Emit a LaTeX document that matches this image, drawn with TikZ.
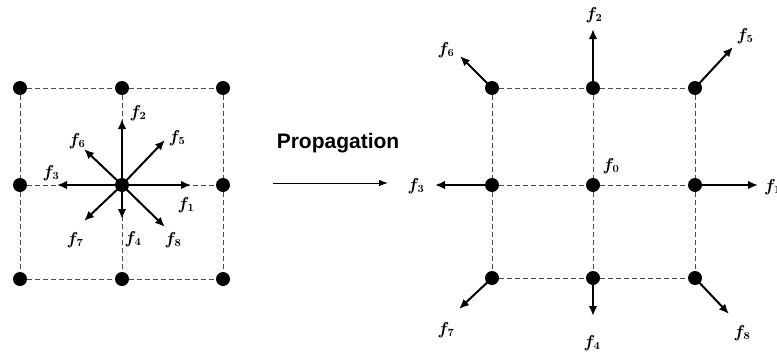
\documentclass[tikz,border=0pt]{standalone}
\usepackage{fontspec}
\usepackage{bm}
\newfontfamily\propfont{Liberation Sans}
\usetikzlibrary{arrows.meta}
\begin{document}
\begin{tikzpicture}[x=1pt,y=-1pt,
  dot/.style={circle,fill=black,inner sep=0pt,minimum size=14pt},
  grid/.style={dashed,dash pattern=on 5pt off 3pt,line width=1pt,black!70},
  vec/.style={line width=2pt,-{Latex[length=10pt,width=8.5pt]}},
  lab/.style={inner sep=0pt,font=\fontsize{16}{18}\selectfont}]
\useasboundingbox (0,0) rectangle (777,351);
% left lattice
\foreach \i/\x in {1/20,2/122,3/223}{
  \foreach \j/\y in {1/88,2/185,3/279}{
    \node[dot] (L\i\j) at (\x,\y) {};
  }
}
\draw[grid] (L11)--(L21)--(L31) (L12)--(L22)--(L32) (L13)--(L23)--(L33)
            (L11)--(L12)--(L13) (L21)--(L22)--(L23) (L31)--(L32)--(L33);
\coordinate (a1) at (191,185);
\coordinate (a2) at (122,119);
\coordinate (a3) at (57,185);
\coordinate (a4) at (122,219);
\coordinate (a5) at (165,140);
\coordinate (a6) at (84,149);
\coordinate (a7) at (84,221);
\coordinate (a8) at (165,227);
\foreach \k in {1,...,8}{\draw[vec] (L22.center)--(a\k);}
\node[lab] (l1) at (186,205) {$\bm{f}_{\bm 1}$};
\node[lab] (l2) at (138,113) {$\bm{f}_{\bm 2}$};
\node[lab] (l3) at (51,173) {$\bm{f}_{\bm 3}$};
\node[lab] (l4) at (133,239) {$\bm{f}_{\bm 4}$};
\node[lab] (l5) at (177,138) {$\bm{f}_{\bm 5}$};
\node[lab] (l6) at (77,141) {$\bm{f}_{\bm 6}$};
\node[lab] (l7) at (75,240) {$\bm{f}_{\bm 7}$};
\node[lab] (l8) at (173,240) {$\bm{f}_{\bm 8}$};
% propagation
\node[inner sep=0pt,font=\propfont\bfseries\fontsize{21}{24}\selectfont] (prop) at (338,143) {Propagation};
\coordinate (p0) at (273,183);
\coordinate (p1) at (388,183);
\draw[line width=1pt,-{Latex[length=9pt,width=6.5pt]}] (p0)--(p1);
% right lattice
\foreach \i/\x in {1/492,2/593,3/695}{
  \foreach \j/\y in {1/88,2/185,3/278}{
    \node[dot] (R\i\j) at (\x,\y) {};
  }
}
\draw[grid] (R11)--(R21)--(R31) (R12)--(R22)--(R32) (R13)--(R23)--(R33)
            (R11)--(R12)--(R13) (R21)--(R22)--(R23) (R31)--(R32)--(R33);
\coordinate (b1) at (758,185);
\coordinate (b2) at (593,29);
\coordinate (b3) at (435,185);
\coordinate (b4) at (593,316);
\coordinate (b5) at (733,47);
\coordinate (b6) at (460,56);
\coordinate (b7) at (459,309);
\coordinate (b8) at (729,314);
\draw[vec] (R32.center)--(b1);
\draw[vec] (R21.center)--(b2);
\draw[vec] (R12.center)--(b3);
\draw[vec] (R23.center)--(b4);
\draw[vec] (R31.center)--(b5);
\draw[vec] (R11.center)--(b6);
\draw[vec] (R13.center)--(b7);
\draw[vec] (R33.center)--(b8);
\node[lab] (r0) at (611,166) {$\bm{f}_{\bm 0}$};
\node[lab,anchor=west] (r1) at (764,187) {$\bm{f}_{\bm 1}$};
\node[lab] (r2) at (594,15) {$\bm{f}_{\bm 2}$};
\node[lab] (r3) at (416,186) {$\bm{f}_{\bm 3}$};
\node[lab] (r4) at (592,343) {$\bm{f}_{\bm 4}$};
\node[lab] (r5) at (745,36) {$\bm{f}_{\bm 5}$};
\node[lab] (r6) at (446,50) {$\bm{f}_{\bm 6}$};
\node[lab] (r7) at (446,330) {$\bm{f}_{\bm 7}$};
\node[lab] (r8) at (742,333) {$\bm{f}_{\bm 8}$};
\end{tikzpicture}
\end{document}
